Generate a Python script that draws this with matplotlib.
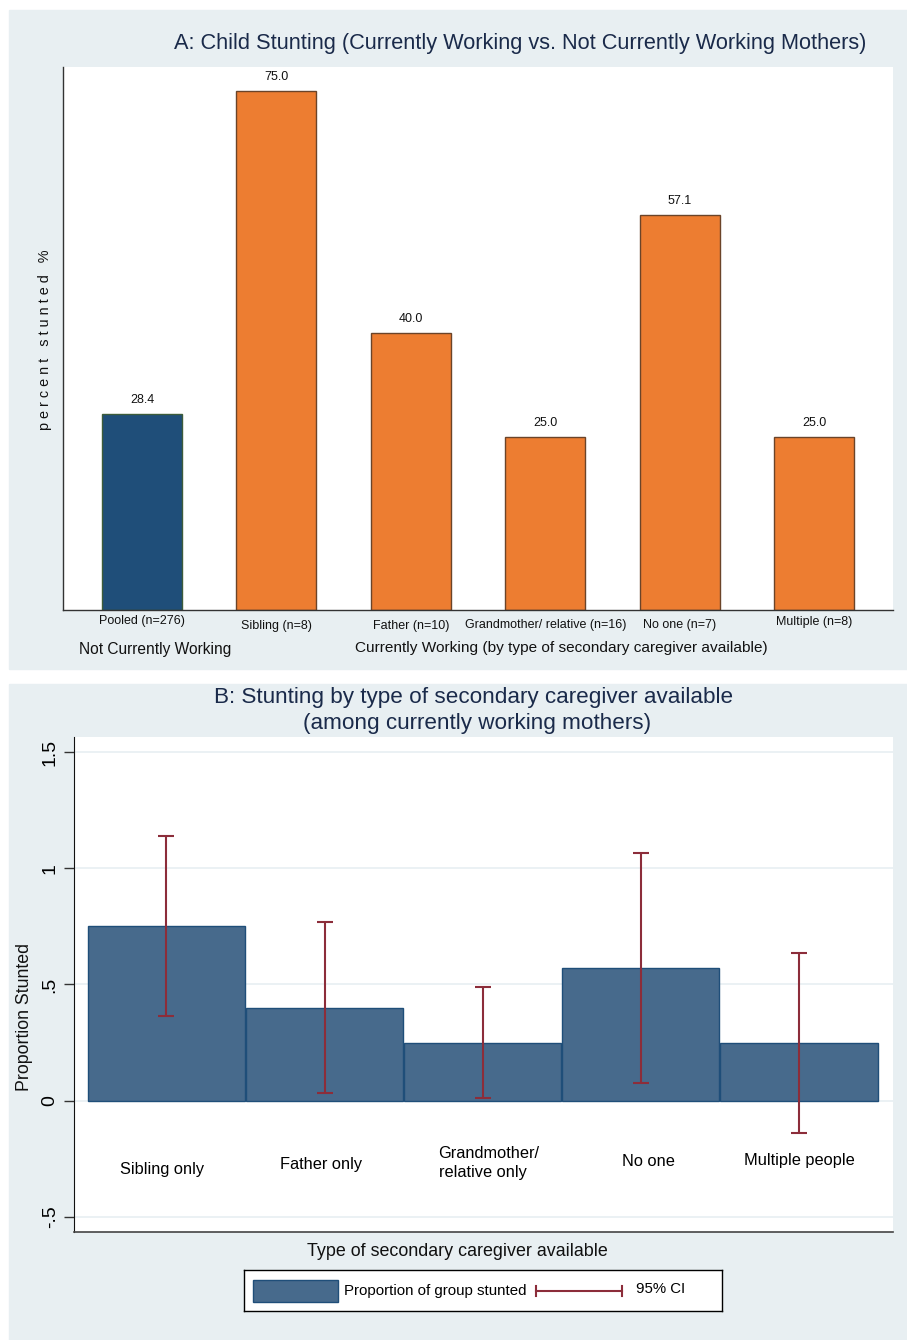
import numpy as np
import matplotlib
matplotlib.use("Agg")
import matplotlib.pyplot as plt
from matplotlib.patches import Rectangle

plt.rcParams['font.family'] = ['Liberation Sans', 'DejaVu Sans']

# panel A: percent stunted by working status / caregiver
a_labels = ["Pooled (n=276)", "Sibling (n=8)", "Father (n=10)",
            "Grandmother/ relative (n=16)", "No one (n=7)", "Multiple (n=8)"]
a_values = [28.4, 75.0, 40.0, 25.0, 57.1, 25.0]

# panel B: proportion stunted with 95% CI, working mothers only
b_labels = ["Sibling only", "Father only", "Grandmother/\nrelative only",
            "No one", "Multiple people"]
b_values = [0.75, 0.40, 0.25, 0.571, 0.25]
b_ci_low = [0.363, 0.031, 0.012, 0.077, -0.137]
b_ci_high = [1.137, 0.769, 0.488, 1.066, 0.637]
b_yticks = [-0.5, 0, 0.5, 1, 1.5]
b_yticklabels = ["-.5", "0", ".5", "1", "1.5"]

W, H = 907, 1340
BG = "#e8eff2"
NAVY = "#1f4e79"
ORANGE = "#ed7d31"
BLUE_B = "#476a8c"
CI_RED = "#8c2d3a"
TITLE = "#1a2a4a"

fig = plt.figure(figsize=(W / 100, H / 100), dpi=100)
fig.patch.set_facecolor("white")


def px_axes(x0, y0, x1, y1):
    return fig.add_axes([x0 / W, 1 - y1 / H, (x1 - x0) / W, (y1 - y0) / H])


def px_text(x, y, s, **kw):
    fig.text(x / W, 1 - y / H, s, **kw)


# panel backgrounds
fig.patches.append(Rectangle((9 / W, 1 - 669 / H), 898 / W, 659 / H,
                             transform=fig.transFigure, color=BG, zorder=-10))
fig.patches.append(Rectangle((9 / W, 0), 898 / W, (H - 684) / H,
                             transform=fig.transFigure, color=BG, zorder=-10))

# ---------- panel A ----------
axA = px_axes(63, 67, 893, 610)
xa = np.arange(len(a_values))
colors = [NAVY] + [ORANGE] * (len(a_values) - 1)
edges = ["#3d5c3a"] + ["#6b4429"] * (len(a_values) - 1)
axA.bar(xa, a_values, width=0.595, color=colors, edgecolor=edges, linewidth=1)
axA.set_xlim(-0.587, 5.584)
axA.set_ylim(0, 78.5)
axA.set_xticks([])
axA.set_yticks([])
for s in ["top", "right"]:
    axA.spines[s].set_visible(False)
for s in ["left", "bottom"]:
    axA.spines[s].set_color("#333333")
    axA.spines[s].set_linewidth(1)

for i, v in enumerate(a_values):
    axA.annotate(f"{v:.1f}", xy=(i, v), xytext=(0, 10), textcoords="offset points",
                 ha="center", va="center", fontsize=9, color="#111111")

label_drop = [11, 16, 16, 15, 15, 12]
for i, lab in enumerate(a_labels):
    axA.annotate(lab, xy=(i, 0), xycoords=("data", "axes fraction"),
                 xytext=(0, -label_drop[i] * 0.72), textcoords="offset points",
                 ha="center", va="center", fontsize=9, color="#111111")

px_text(520, 43, "A: Child Stunting (Currently Working vs. Not Currently Working Mothers)",
        ha="center", va="center", fontsize=15.7, color=TITLE)
px_text(45, 340, "p e r c e n t   s t u n t e d   %", rotation=90,
        ha="center", va="center", fontsize=10.4, color="#111111")
px_text(155, 650, "Not Currently Working", ha="center", va="center",
        fontsize=11.2, color="#111111")
px_text(561, 648, "Currently Working (by type of secondary caregiver available)",
        ha="center", va="center", fontsize=11.1, color="#111111")

# ---------- panel B ----------
axB = px_axes(74, 737, 893, 1232)
axB.set_facecolor("white")
xb = np.arange(len(b_values))
axB.bar(xb, b_values, width=0.995, color=BLUE_B, edgecolor=NAVY, linewidth=1, zorder=2)
yerr = [np.array(b_values) - np.array(b_ci_low), np.array(b_ci_high) - np.array(b_values)]
axB.errorbar(xb, b_values, yerr=yerr, fmt="none", ecolor=CI_RED, elinewidth=1.5,
             capsize=6, capthick=1.5, zorder=3)
axB.set_xlim(-0.585, 4.595)
axB.set_ylim(-0.565, 1.565)
axB.set_yticks(b_yticks)
axB.set_yticklabels(b_yticklabels, rotation=90, va="center", fontsize=14)
axB.tick_params(axis="y", length=7, width=1, color="#333333", pad=4)
axB.set_xticks([])
axB.grid(axis="y", color=BG, linewidth=1.2, zorder=0)
axB.set_axisbelow(True)
for s in ["top", "right"]:
    axB.spines[s].set_visible(False)
axB.spines["left"].set_color("#111111")
axB.spines["bottom"].set_color("#444444")
axB.spines["bottom"].set_linewidth(1.2)

label_y = [-0.297, -0.276, -0.267, -0.263, -0.259]
label_x = [-0.03, -0.02, 0.04, 0.05, 0.0]
for i, lab in enumerate(b_labels):
    if "\n" in lab:
        axB.text(i + label_x[i], label_y[i], lab, ha="center", va="center",
                 fontsize=11.8, multialignment="left", linespacing=1.3)
    else:
        axB.text(i + label_x[i], label_y[i], lab, ha="center", va="center", fontsize=11.8)

px_text(474, 697, "B: Stunting by type of secondary caregiver available",
        ha="center", va="center", fontsize=16.2, color=TITLE)
px_text(477, 723, "(among currently working mothers)",
        ha="center", va="center", fontsize=16.2, color=TITLE)
px_text(25, 1017, "Proportion Stunted", rotation=90, ha="center", va="center",
        fontsize=12.8, color="#111111")
px_text(457, 1251, "Type of secondary caregiver available", ha="center", va="center",
        fontsize=12.9, color="#111111")

# legend box
axL = px_axes(244, 1270, 722, 1311)
axL.set_xlim(244, 722)
axL.set_ylim(1311, 1270)
axL.set_xticks([])
axL.set_yticks([])
axL.set_facecolor("white")
for s in axL.spines.values():
    s.set_color("black")
    s.set_linewidth(1)
axL.add_patch(Rectangle((253, 1280), 85, 22, facecolor=BLUE_B, edgecolor=NAVY, linewidth=1))
axL.text(344, 1291, "Proportion of group stunted", va="center", fontsize=10.8)
axL.plot([536, 622], [1291, 1291], color=CI_RED, linewidth=1.5)
axL.plot([536, 536], [1286, 1296], color=CI_RED, linewidth=1.5)
axL.plot([622, 622], [1286, 1296], color=CI_RED, linewidth=1.5)
axL.text(636, 1289, "95% CI", va="center", fontsize=10.8)

fig.savefig("out.png", dpi=100)
